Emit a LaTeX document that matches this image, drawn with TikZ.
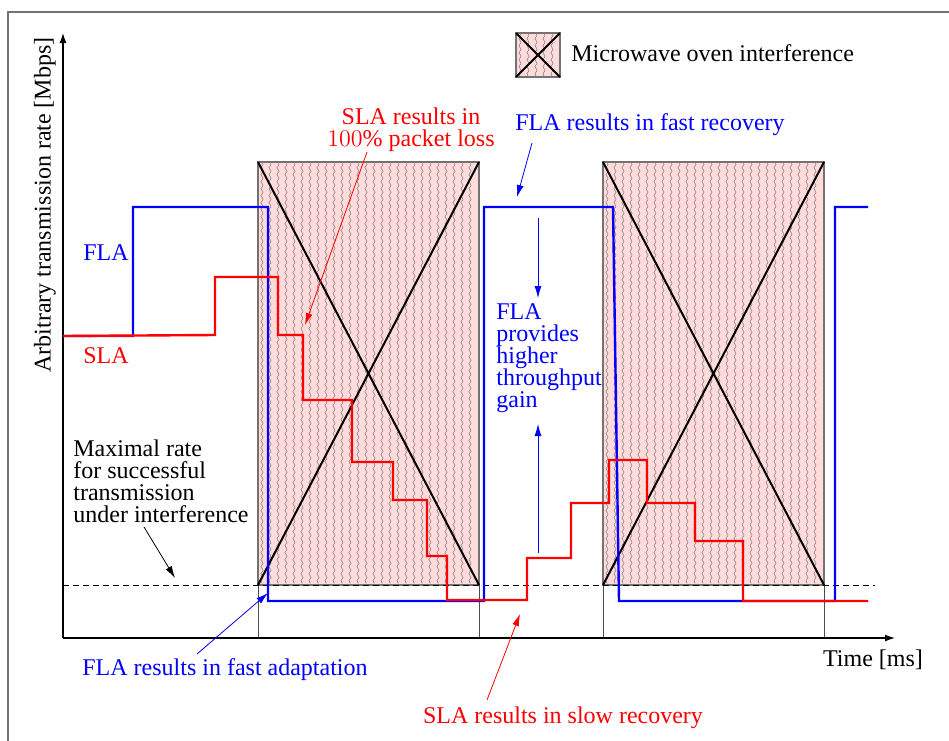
\documentclass[tikz,border=0pt]{standalone}
\usepackage{fontspec}
\setmainfont{Liberation Serif}
\usetikzlibrary{arrows.meta,decorations.pathmorphing}

\tikzset{
  ovenfill/.style={fill=red!14},
  ovenwave/.style={draw=black!60, line width=0.2pt, decorate,
    decoration={snake, amplitude=0.55pt, segment length=3.5pt}},
  ovenedge/.style={draw=black!55, line width=0.6pt},
  ovencross/.style={draw=black, line width=1pt},
  axis/.style={-{Latex[length=5pt,width=3.5pt]}, line width=0.6pt},
  fla/.style={draw=blue, line width=1.2pt},
  sla/.style={draw=red, line width=1.2pt},
  note/.style={-{Latex[length=6pt,width=3.5pt]}, line width=0.4pt},
  label/.style={inner sep=0pt, align=left}
}

% interference box: x1 y1 x2 y2
\newcommand{\ovenbox}[4]{%
  \fill[ovenfill] (#1,#2) rectangle (#3,#4);
  \pgfmathtruncatemacro{\nwave}{(#3-#1-8)/8}
  \foreach \i in {0,...,\nwave}
    \draw[ovenwave] (#1+4+8*\i,#2) -- (#1+4+8*\i,#4);
  \draw[ovenedge] (#1,#2) rectangle (#3,#4);
  \draw[ovencross] (#1,#2) -- (#3,#4) (#3,#2) -- (#1,#4);
}

\begin{document}
\begin{tikzpicture}[x=0.5pt, y=-0.5pt, font=\fontsize{12}{11}\selectfont]
    \useasboundingbox (0,0) rectangle (949,740);
    \draw[black!55, line width=0.8pt] (8,12) rectangle (965,755);

    % Interference periods
    \ovenbox{258}{162}{479}{585}
    \ovenbox{603}{162}{824}{585}
    \draw[black!70, line width=0.5pt] (258,585) -- (258,638) (479,585) -- (479,638);
    \draw[black!70, line width=0.5pt] (603,585) -- (603,638) (824,585) -- (824,638);

    % Legend
    \ovenbox{516}{33}{560}{77}
    \node[label, anchor=west] (legend) at (571,53) {Microwave oven interference};

    % Axes
    \coordinate (origin) at (63,638);
    \coordinate (ytop) at (63,33);
    \coordinate (xend) at (895,638);
    \draw[axis] (origin) -- (ytop);
    \draw[axis] (origin) -- (xend);
    \node[rotate=90] (ylabel) at (45,205) {Arbitrary transmission rate [Mbps]};
    \node (xlabel) at (873,660) {Time [ms]};

    % Maximal rate under interference
    \draw[dashed, dash pattern=on 3pt off 2pt, line width=0.5pt] (63,585) -- (875,585);

    % FLA
    \draw[fla] (63,336) -- (133,336) -- (133,207) -- (268,207) -- (268,601)
      -- (484,601) -- (484,207) -- (613,207) -- (619,601) -- (835,601)
      -- (835,207) -- (868,207);
    % SLA
    \draw[sla] (63,336) -- (215,335) -- (215,277) -- (278,277) -- (278,335)
      -- (303,335) -- (303,400) -- (352,400) -- (352,462) -- (393,462)
      -- (393,500) -- (427,500) -- (427,556) -- (447,556) -- (447,600)
      -- (527,600) -- (527,558) -- (571,558) -- (571,503) -- (609,503)
      -- (609,460) -- (647,460) -- (647,503) -- (695,503) -- (695,541)
      -- (743,541) -- (743,601) -- (868,601);

    \node[blue] (flaname) at (106,253) {FLA};
    \node[red] (slaname) at (106,356) {SLA};

    % Annotations
    \node[red, align=center, inner sep=0pt] (loss) at (411,130) {SLA results in\\$100\%$ packet loss};
    \coordinate (losstail) at (367,152);
    \coordinate (losstip) at (305,325);
    \draw[note, red] (losstail) -- (losstip);

    \node[blue, inner sep=0pt] (fastrec) at (650,125) {FLA results in fast recovery};
    \coordinate (fastrectail) at (532,143);
    \coordinate (fastrectip) at (517,197);
    \draw[note, blue] (fastrectail) -- (fastrectip);

    \node[blue, label, anchor=west] (gain) at (496,358) {FLA\\provides\\higher\\throughput\\gain};
    \coordinate (gaintop) at (538,218);
    \coordinate (gaintopend) at (538,298);
    \coordinate (gainbot) at (538,553);
    \coordinate (gainbotend) at (538,424);
    \draw[note, blue] (gaintop) -- (gaintopend);
    \draw[note, blue] (gainbot) -- (gainbotend);

    \node[label, anchor=west] (maxrate) at (73,481) {Maximal rate\\for successful\\transmission\\under interference};
    \coordinate (maxtail) at (144,527);
    \coordinate (maxtip) at (175,578);
    \draw[note, black] (maxtail) -- (maxtip);

    \node[blue, inner sep=0pt] (fastadapt) at (225,670) {FLA results in fast adaptation};
    \coordinate (adapttail) at (197,654);
    \coordinate (adapttip) at (268,593);
    \draw[note, blue] (adapttail) -- (adapttip);

    \node[red, inner sep=0pt] (slowrec) at (563,718) {SLA results in slow recovery};
    \coordinate (slowtail) at (487,700);
    \coordinate (slowtip) at (520,614);
    \draw[note, red] (slowtail) -- (slowtip);
\end{tikzpicture}
\end{document}
